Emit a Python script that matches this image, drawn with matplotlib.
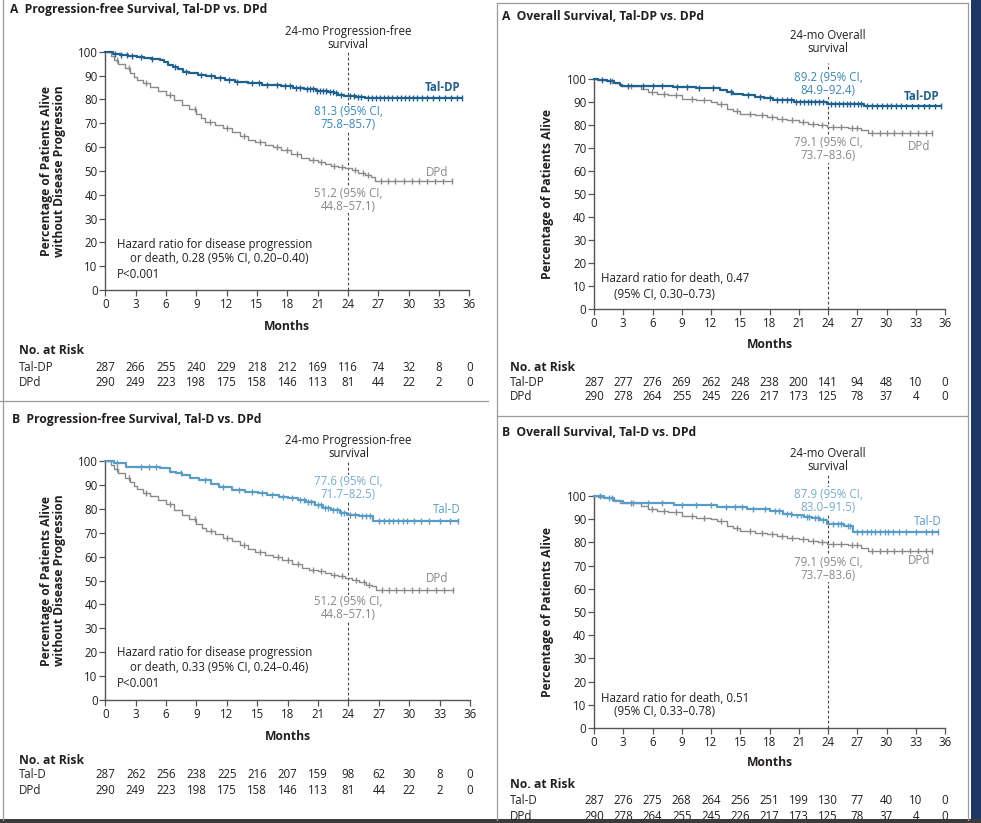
import numpy as np
import matplotlib.pyplot as plt
import matplotlib.transforms as mtransforms

plt.rcParams['font.family'] = ['Open Sans', 'DejaVu Sans']

W, H = 981, 823

# ---------------------------------------------------------------- data ---- #
months_ticks = list(range(0, 37, 3))
pct_ticks = list(range(0, 101, 10))

# Progression-free survival, Tal-DP
pfs_taldp_t = [0, 0.8, 1.5, 2.2, 3.1, 3.8, 4.5, 5.4, 5.8, 6.2, 6.7, 7.2, 7.7, 8.3, 9.2, 10.0,
               10.8, 11.8, 12.8, 14.1, 15.5, 17.4, 18.6, 19.7, 20.8, 22.0, 22.6, 23.0, 23.6,
               24.8, 25.7]
pfs_taldp_s = [100, 99.0, 98.6, 98.3, 97.9, 97.5, 97.0, 96.5, 95.5, 94.4, 93.6, 92.8, 91.6, 91.0,
               90.2, 89.6, 88.8, 88.1, 87.4, 86.7, 86.2, 85.6, 84.9, 84.2, 83.7, 83.2, 82.6,
               81.8, 81.3, 81.0, 80.7]
pfs_taldp_end = 35.3
pfs_taldp_cens = [1.0, 1.6, 2.1, 2.6, 3.5, 4.6, 6.9, 8.0, 9.5, 10.5, 11.3, 12.2, 13.0, 14.5, 15.2,
                  16.0, 17.0, 17.8, 18.3, 18.9, 19.3, 19.9, 20.2, 20.5, 20.9, 21.2, 21.5, 21.8,
                  22.2, 22.5, 22.8, 23.3, 24.2, 24.6, 25.0, 25.3, 26.0, 26.4, 26.8, 27.2, 27.6,
                  28.0, 28.4, 28.8, 29.2, 29.6, 30.0, 30.4, 30.8, 31.3, 31.8, 32.4, 33.0, 33.6,
                  34.2, 34.8, 35.3]

# Progression-free survival, DPd
pfs_dpd_t = [0, 0.6, 0.9, 1.3, 1.9, 2.4, 2.8, 3.1, 3.7, 4.4, 5.2, 6.0, 6.8, 7.6, 8.3, 9.0, 9.5,
             9.9, 10.8, 11.6, 12.5, 13.3, 14.1, 14.8, 15.8, 16.6, 17.4, 18.4, 19.4, 20.1, 21.0,
             21.7, 22.3, 23.0, 23.7, 24.4, 25.0, 25.7, 26.3, 26.7]
pfs_dpd_s = [100, 98.3, 96.5, 95.0, 93.0, 91.2, 89.5, 88.1, 86.7, 85.3, 83.5, 81.8, 79.7, 77.6,
             75.9, 73.8, 72.0, 70.6, 69.3, 67.8, 66.4, 64.8, 63.0, 62.0, 60.8, 59.8, 58.7, 57.0,
             55.3, 54.5, 53.8, 53.0, 52.2, 51.7, 51.2, 50.3, 49.2, 48.2, 47.5, 45.9]
pfs_dpd_end = 34.3
pfs_dpd_cens = [1.2, 2.3, 4.0, 6.4, 8.9, 10.4, 12.0, 13.7, 15.3, 17.0, 18.0, 19.0, 20.5, 21.3,
                22.6, 23.4, 24.7, 25.5, 26.0, 27.3, 28.0, 28.7, 29.5, 30.3, 31.0, 31.8, 32.6,
                33.4, 34.3]

# Progression-free survival, Tal-D
pfs_tald_t = [0, 0.9, 2.0, 5.4, 6.4, 7.0, 7.6, 8.4, 9.2, 10.4, 11.2, 12.5, 13.8, 15.1, 16.0,
              17.1, 18.0, 19.0, 19.8, 20.7, 21.5, 22.3, 23.2, 23.9, 25.0, 26.4]
pfs_tald_s = [100, 99.0, 97.6, 96.9, 95.5, 94.8, 94.1, 93.0, 92.0, 90.5, 89.2, 87.9, 87.2, 86.5,
              85.8, 85.1, 84.4, 83.7, 82.7, 81.6, 80.5, 79.5, 78.3, 77.6, 77.1, 74.9]
pfs_tald_end = 34.8
pfs_tald_cens = [1.2, 3.5, 4.3, 5.0, 7.5, 9.8, 11.6, 13.2, 14.5, 15.5, 16.5, 17.5, 18.4, 19.2,
                 19.6, 20.0, 20.3, 20.6, 21.0, 21.3, 21.7, 22.0, 22.5, 22.9, 23.3, 23.6, 24.2,
                 24.6, 25.3, 25.7, 26.1, 27.0, 27.5, 28.0, 28.4, 28.9, 29.4, 29.8, 30.5, 31.2,
                 32.0, 33.0, 34.0, 34.8]

# Overall survival, Tal-DP
os_taldp_t = [0, 0.4, 1.3, 2.0, 2.7, 2.9, 8.1, 10.5, 11.9, 12.9, 13.6, 14.3, 15.3, 16.5, 17.4,
              18.4, 20.5, 22.5, 23.9, 27.7]
os_taldp_s = [100, 99.6, 99.0, 98.3, 97.5, 97.0, 96.6, 96.3, 96.1, 95.1, 94.3, 93.6, 92.9, 92.3,
              91.7, 90.7, 90.0, 89.8, 89.2, 88.3]
os_taldp_end = 35.6
os_taldp_cens = [0.8, 1.6, 3.5, 5.0, 6.0, 7.0, 8.5, 9.5, 10.8, 12.2, 14.0, 15.8, 17.0, 18.0, 18.8,
                 19.3, 19.8, 20.2, 20.7, 21.1, 21.5, 21.9, 22.3, 22.7, 23.1, 23.5, 24.3, 24.7,
                 25.1, 25.5, 25.9, 26.3, 26.7, 27.1, 27.4, 28.0, 28.5, 29.0, 29.5, 30.0, 30.5,
                 31.0, 31.5, 32.0, 32.6, 33.2, 33.8, 34.4, 35.0, 35.6]

# Overall survival, DPd
os_dpd_t = [0, 0.4, 1.3, 2.0, 2.7, 4.8, 5.5, 6.5, 7.6, 9.0, 10.5, 12.0, 12.6, 13.6, 14.3, 15.0,
            16.5, 17.7, 18.8, 19.8, 21.0, 21.9, 23.0, 23.9, 26.0, 27.4, 28.1]
os_dpd_s = [100, 99.6, 99.0, 98.3, 97.0, 95.8, 94.4, 93.6, 92.9, 91.5, 90.7, 89.9, 89.3, 87.1,
            86.0, 84.9, 84.2, 83.5, 82.8, 82.1, 81.3, 80.6, 80.0, 79.1, 78.7, 77.7, 76.5]
os_dpd_end = 34.7
os_dpd_cens = [1.8, 3.8, 5.9, 7.2, 8.4, 10.0, 11.3, 13.0, 14.7, 16.0, 17.2, 18.3, 19.3, 20.3,
               21.4, 22.5, 23.4, 24.5, 25.3, 26.5, 27.0, 28.5, 29.3, 30.0, 30.8, 31.6, 32.4,
               33.2, 34.0, 34.7]

# Overall survival, Tal-D
os_tald_t = [0, 1.0, 2.0, 3.0, 8.2, 12.6, 15.7, 18.1, 19.4, 20.4, 21.5, 22.4, 23.2, 23.9, 25.6,
             26.6]
os_tald_s = [100, 99.0, 98.0, 97.1, 96.1, 95.1, 94.3, 93.7, 92.2, 91.6, 91.1, 90.4, 89.7, 87.9,
             87.1, 84.6]
os_tald_end = 35.3
os_tald_cens = [0.6, 1.5, 4.0, 5.5, 7.0, 9.0, 10.5, 12.0, 13.5, 14.5, 15.2, 16.3, 17.5, 18.6,
                19.0, 19.8, 20.2, 20.8, 21.2, 21.8, 22.1, 22.7, 23.0, 23.5, 24.5, 25.0, 25.3,
                26.0, 26.3, 27.0, 27.5, 28.0, 28.4, 28.8, 29.3, 29.8, 30.2, 30.7, 31.3, 32.0,
                33.0, 34.0, 34.7, 35.3]

# numbers at risk
risk_pfs_taldp = [287, 266, 255, 240, 229, 218, 212, 169, 116, 74, 32, 8, 0]
risk_pfs_dpd = [290, 249, 223, 198, 175, 158, 146, 113, 81, 44, 22, 2, 0]
risk_pfs_tald = [287, 262, 256, 238, 225, 216, 207, 159, 98, 62, 30, 8, 0]
risk_os_taldp = [287, 277, 276, 269, 262, 248, 238, 200, 141, 94, 48, 10, 0]
risk_os_dpd = [290, 278, 264, 255, 245, 226, 217, 173, 125, 78, 37, 4, 0]
risk_os_tald = [287, 276, 275, 268, 264, 256, 251, 199, 130, 77, 40, 10, 0]

# ---------------------------------------------------------------- style --- #
DARK = '#231f20'
GRAY_LINE = '#8a8a8a'
GRAY_TXT = '#888888'
BLUE_DP = '#1f6290'
BLUE_DP_TXT = '#3a86b8'
BLUE_D = '#5a9cc8'
BLUE_D_TXT = '#74aad0'
FS = 8.3
FSB = 8.7

fig = plt.figure(figsize=(W / 100, H / 100), dpi=100)


def fx(x):
    return x / W


def fy(y):
    return 1 - y / H


def add_axes_px(x0, y0, x1, y1):
    return fig.add_axes([fx(x0), fy(y1), (x1 - x0) / W, (y1 - y0) / H])


def km(ax, t, s, end, cens, color, lw):
    tt = list(t) + [end]
    ss = list(s) + [s[-1]]
    ax.plot(tt, ss, drawstyle='steps-post', color=color, lw=lw, clip_on=False, zorder=3)
    idx = np.searchsorted(t, cens, side='right') - 1
    ax.plot(cens, np.array(s)[idx], ls='none', marker='|', ms=4, mew=1.0, color=color,
            clip_on=False, zorder=3)


def setup_axes(ax):
    ax.set_xlim(0, 36)
    ax.set_ylim(0, 100)
    ax.set_xticks(months_ticks)
    ax.set_yticks(pct_ticks)
    for side in ['top', 'right']:
        ax.spines[side].set_visible(False)
    for side in ['left', 'bottom']:
        ax.spines[side].set_color('#555555')
        ax.spines[side].set_linewidth(1.0)
    ax.tick_params(length=4, width=0.9, colors='#555555', labelcolor=DARK,
                   labelsize=FS, pad=1.5)
    ax.patch.set_alpha(0)


def risk_table(ax, label_y, rows, x_label=None):
    tr = mtransforms.blended_transform_factory(ax.transData, fig.transFigure)
    fig.text(fx(x_label), fy(label_y), 'No. at Risk', fontsize=FSB, fontweight='bold',
             color=DARK, va='center')
    for name, vals, y in rows:
        fig.text(fx(x_label), fy(y), name, fontsize=FS, color=DARK, va='center')
        for m, v in zip(months_ticks, vals):
            ax.text(m, fy(y), str(v), transform=tr, fontsize=FS, color=DARK,
                    ha='center', va='center')


def panel(title, title_xy, rect, ylab, ylab_x, months_y, mark_title, mark_y, dash_top,
          curves, labels, hazard, risk_label_y, risk_rows, risk_x):
    ax = add_axes_px(*rect)
    setup_axes(ax)
    fig.text(fx(title_xy[0]), fy(title_xy[1]), title, fontsize=FSB, fontweight='bold',
             color=DARK, va='center')
    fig.text(fx(ylab_x), 0.5 * (fy(rect[1]) + fy(rect[3])), ylab, rotation=90,
             fontsize=FSB, fontweight='bold', color=DARK, ha='center', va='center',
             linespacing=1.0)
    fig.text(0.5 * (fx(rect[0]) + fx(rect[2])), fy(months_y), 'Months', fontsize=FSB,
             fontweight='bold', color=DARK, ha='center', va='center')
    ax.plot([24, 24], [0, dash_top], ls=(0, (2.5, 2)), color='#444444', lw=0.8,
            clip_on=False, zorder=1)
    ax.text(24, mark_y, mark_title, ha='center', va='center', fontsize=FS, color=DARK,
            linespacing=1.0)
    for t, s, end, cens, color, lw in curves:
        km(ax, t, s, end, cens, color, lw)
    for x, y, txt, color, weight in labels:
        ax.text(x, y, txt, ha='center', va='center', fontsize=FS, color=color,
                fontweight=weight, linespacing=1.0, zorder=4,
                bbox=dict(facecolor='white', edgecolor='none', pad=0.3))
    for x, y, txt in hazard:
        ax.text(x, y, txt, ha='left', va='center', fontsize=FS, color=DARK)
    risk_table(ax, risk_label_y, risk_rows, risk_x)
    return ax


# ----------------------------------------------------- frame decorations -- #
def hline(x0, x1, y, color='#9a9a9a', lw=0.9):
    fig.add_artist(plt.Line2D([fx(x0), fx(x1)], [fy(y), fy(y)], color=color, lw=lw))


def vline(x, y0, y1, color='#9a9a9a', lw=0.9):
    fig.add_artist(plt.Line2D([fx(x), fx(x)], [fy(y0), fy(y1)], color=color, lw=lw))


vline(3, 0, 820)
hline(0, 488, 401)
vline(497, 3, 820)
vline(968, 3, 820)
hline(497, 968, 3)
hline(497, 968, 416)
fig.add_artist(plt.Rectangle((fx(971), 0), 1 - fx(971), 1, color='#1d3866', lw=0))
fig.add_artist(plt.Rectangle((0, 0), 1, fy(819), color='#3b3b3b', lw=0))

# ---------------------------------------------------------------- panels -- #
pfs_ylab = 'Percentage of Patients Alive\nwithout Disease Progression'
os_ylab = 'Percentage of Patients Alive'

panel('A  Progression-free Survival, Tal-DP vs. DPd', (10, 10), (105.3, 51.7, 469.3, 290),
      pfs_ylab, 53.5, 327, '24-mo Progression-free\nsurvival', 105.8, 100.6,
      [(pfs_dpd_t, pfs_dpd_s, pfs_dpd_end, pfs_dpd_cens, GRAY_LINE, 1.0),
       (pfs_taldp_t, pfs_taldp_s, pfs_taldp_end, pfs_taldp_cens, BLUE_DP, 1.6)],
      [(33.4, 84.8, 'Tal-DP', BLUE_DP, 'bold'),
       (24, 72.0, '81.3 (95% CI,\n75.8–85.7)', BLUE_DP_TXT, 'normal'),
       (32.8, 49.5, 'DPd', GRAY_TXT, 'normal'),
       (24, 37.8, '51.2 (95% CI,\n44.8–57.1)', GRAY_TXT, 'normal')],
      [(1.15, 18.9, 'Hazard ratio for disease progression'),
       (2.45, 13.4, 'or death, 0.28 (95% CI, 0.20–0.40)'),
       (1.15, 6.7, 'P<0.001')],
      351, [('Tal-DP', risk_pfs_taldp, 367), ('DPd', risk_pfs_dpd, 382)], 19)

panel('B  Progression-free Survival, Tal-D vs. DPd', (12, 419), (105.3, 461, 470, 700),
      pfs_ylab, 53.5, 736, '24-mo Progression-free\nsurvival', 105.8, 100.4,
      [(pfs_dpd_t, pfs_dpd_s, pfs_dpd_end, pfs_dpd_cens, GRAY_LINE, 1.0),
       (pfs_tald_t, pfs_tald_s, pfs_tald_end, pfs_tald_cens, BLUE_D, 1.6)],
      [(33.7, 79.5, 'Tal-D', BLUE_D, 'normal'),
       (24, 88.7, '77.6 (95% CI,\n71.7–82.5)', BLUE_D_TXT, 'normal'),
       (32.8, 51.0, 'DPd', GRAY_TXT, 'normal'),
       (24, 38.3, '51.2 (95% CI,\n44.8–57.1)', GRAY_TXT, 'normal')],
      [(1.15, 19.7, 'Hazard ratio for disease progression'),
       (2.45, 13.4, 'or death, 0.33 (95% CI, 0.24–0.46)'),
       (1.15, 6.7, 'P<0.001')],
      761, [('Tal-D', risk_pfs_tald, 775), ('DPd', risk_pfs_dpd, 791)], 19)

panel('A  Overall Survival, Tal-DP vs. DPd', (502, 17), (594, 79, 945, 309.3),
      os_ylab, 548, 344, '24-mo Overall\nsurvival', 115.9, 107,
      [(os_dpd_t, os_dpd_s, os_dpd_end, os_dpd_cens, GRAY_LINE, 1.0),
       (os_taldp_t, os_taldp_s, os_taldp_end, os_taldp_cens, BLUE_DP, 1.6)],
      [(33.6, 92.2, 'Tal-DP', BLUE_DP, 'bold'),
       (24, 98.0, '89.2 (95% CI,\n84.9–92.4)', BLUE_DP_TXT, 'normal'),
       (33.3, 70.9, 'DPd', GRAY_TXT, 'normal'),
       (24, 69.4, '79.1 (95% CI,\n73.7–83.6)', GRAY_TXT, 'normal')],
      [(0.7, 13.2, 'Hazard ratio for death, 0.47'),
       (2.05, 6.6, '(95% CI, 0.30–0.73)')],
      368, [('Tal-DP', risk_os_taldp, 383), ('DPd', risk_os_dpd, 397)], 510)

panel('B  Overall Survival, Tal-D vs. DPd', (502, 432), (594, 496, 945, 728),
      os_ylab, 548, 762, '24-mo Overall\nsurvival', 115.5, 109,
      [(os_dpd_t, os_dpd_s, os_dpd_end, os_dpd_cens, GRAY_LINE, 1.0),
       (os_tald_t, os_tald_s, os_tald_end, os_tald_cens, BLUE_D, 1.6)],
      [(34.2, 88.8, 'Tal-D', BLUE_D, 'normal'),
       (24, 97.9, '87.9 (95% CI,\n83.0–91.5)', BLUE_D_TXT, 'normal'),
       (33.3, 72.0, 'DPd', GRAY_TXT, 'normal'),
       (24, 68.6, '79.1 (95% CI,\n73.7–83.6)', GRAY_TXT, 'normal')],
      [(0.7, 12.9, 'Hazard ratio for death, 0.51'),
       (2.05, 6.9, '(95% CI, 0.33–0.78)')],
      785, [('Tal-D', risk_os_tald, 801), ('DPd', risk_os_dpd, 816)], 510)

fig.savefig('out.png', dpi=100)
